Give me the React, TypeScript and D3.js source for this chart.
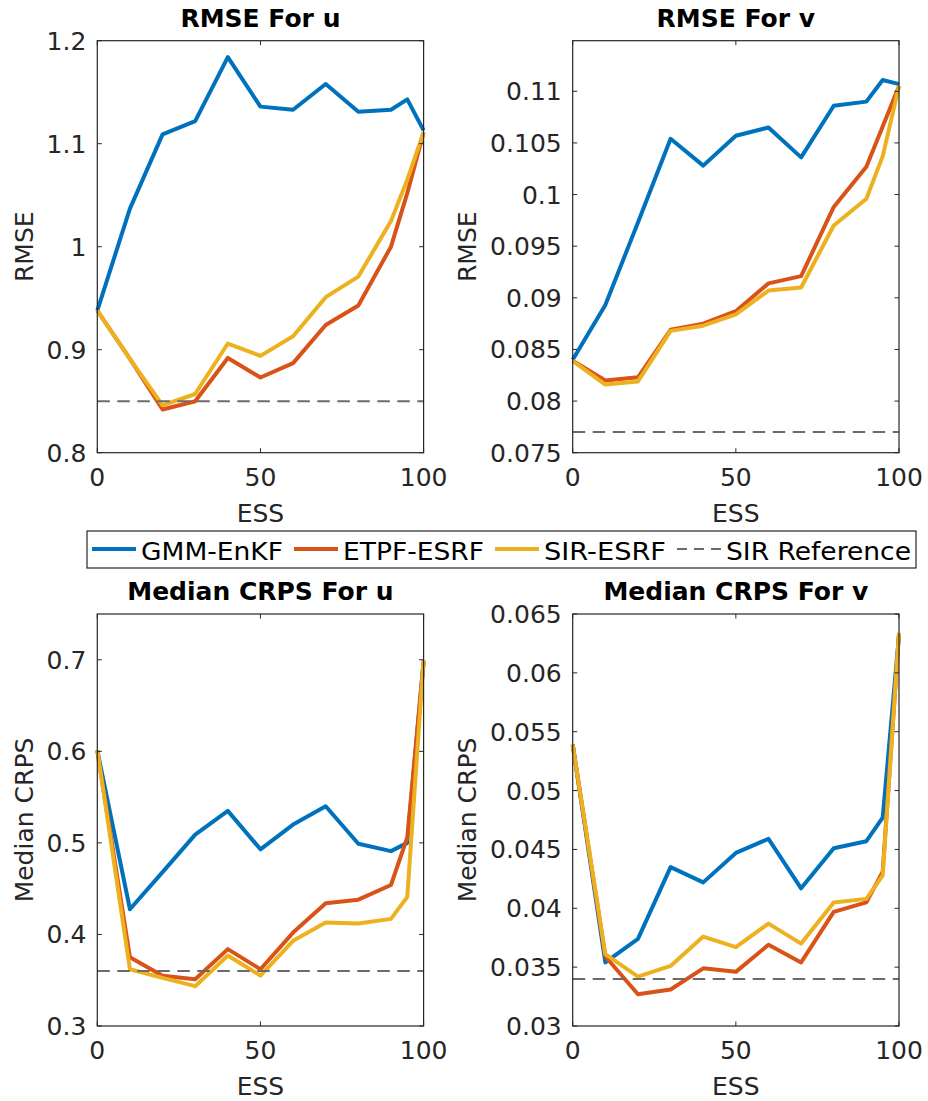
import React, { useEffect, useRef } from "react";
import * as d3 from "d3";

// ESS values on the x axis (note the extra point at 95)
const ess = [0, 10, 20, 30, 40, 50, 60, 70, 80, 90, 95, 100];
const xTicks = [0, 50, 100];

const seriesNames = ["GMM-EnKF", "ETPF-ESRF", "SIR-ESRF"];
const refName = "SIR Reference";

// RMSE for u
const rmseUGmm = [0.938, 1.037, 1.109, 1.122, 1.184, 1.136, 1.133, 1.158, 1.131, 1.133, 1.143, 1.113];
const rmseUEtpf = [0.938, 0.891, 0.842, 0.85, 0.892, 0.873, 0.887, 0.924, 0.943, 1.0, 1.052, 1.111];
const rmseUSir = [0.938, 0.891, 0.846, 0.857, 0.906, 0.894, 0.913, 0.951, 0.971, 1.025, 1.065, 1.111];
const rmseURef = 0.85;
const rmseUTicks = [0.8, 0.9, 1, 1.1, 1.2];

// RMSE for v
const rmseVGmm = [0.084, 0.0893, 0.0973, 0.1054, 0.1028, 0.1057, 0.1065, 0.1036, 0.1086, 0.109, 0.1111, 0.1107];
const rmseVEtpf = [0.0839, 0.082, 0.0823, 0.0869, 0.0875, 0.0887, 0.0914, 0.0921, 0.0988, 0.1027, 0.1066, 0.1105];
const rmseVSir = [0.0839, 0.0816, 0.0819, 0.0868, 0.0873, 0.0884, 0.0907, 0.091, 0.097, 0.0996, 0.1037, 0.1105];
const rmseVRef = 0.077;
const rmseVTicks = [0.075, 0.08, 0.085, 0.09, 0.095, 0.1, 0.105, 0.11];

// median CRPS for u
const crpsUGmm = [0.601, 0.4275, 0.468, 0.509, 0.535, 0.493, 0.52, 0.54, 0.499, 0.491, 0.5, 0.698];
const crpsUEtpf = [0.601, 0.375, 0.355, 0.351, 0.384, 0.362, 0.402, 0.434, 0.438, 0.454, 0.506, 0.698];
const crpsUSir = [0.601, 0.362, 0.3525, 0.3435, 0.377, 0.355, 0.393, 0.413, 0.412, 0.417, 0.441, 0.7];
const crpsURef = 0.36;
const crpsUTicks = [0.3, 0.4, 0.5, 0.6, 0.7];

// median CRPS for v
const crpsVGmm = [0.0539, 0.0354, 0.0374, 0.0435, 0.0422, 0.0447, 0.0459, 0.0417, 0.0451, 0.0457, 0.0477, 0.0632];
const crpsVEtpf = [0.0539, 0.0359, 0.0327, 0.0331, 0.0349, 0.0346, 0.0369, 0.0354, 0.0397, 0.0405, 0.0431, 0.0633];
const crpsVSir = [0.0539, 0.0361, 0.0342, 0.0351, 0.0376, 0.0367, 0.0387, 0.037, 0.0405, 0.0408, 0.0428, 0.0634];
const crpsVRef = 0.034;
const crpsVTicks = [0.03, 0.035, 0.04, 0.045, 0.05, 0.055, 0.06, 0.065];

const colors = ["#0072BD", "#D95319", "#EDB120"];
const axisColor = "#262626";
const refColor = "#6b6b6b";
const font = "DejaVu Sans, Verdana, sans-serif";

type Panel = {
  title: string;
  ylabel: string;
  col: number;
  row: number;
  domain: [number, number];
  ticks: number[];
  series: number[][];
  ref: number;
};

const panels: Panel[] = [
  { title: "RMSE For u", ylabel: "RMSE", col: 0, row: 0, domain: [0.8, 1.2], ticks: rmseUTicks, series: [rmseUGmm, rmseUEtpf, rmseUSir], ref: rmseURef },
  { title: "RMSE For v", ylabel: "RMSE", col: 1, row: 0, domain: [0.075, 0.1149], ticks: rmseVTicks, series: [rmseVGmm, rmseVEtpf, rmseVSir], ref: rmseVRef },
  { title: "Median CRPS For u", ylabel: "Median CRPS", col: 0, row: 1, domain: [0.3, 0.75], ticks: crpsUTicks, series: [crpsUGmm, crpsUEtpf, crpsUSir], ref: crpsURef },
  { title: "Median CRPS For v", ylabel: "Median CRPS", col: 1, row: 1, domain: [0.03, 0.065], ticks: crpsVTicks, series: [crpsVGmm, crpsVEtpf, crpsVSir], ref: crpsVRef },
];

const W = 928;
const H = 1101;
const colX = [97.3, 572.7];
const rowY = [40.7, 614];
const PW = 326.3;
const PH = 412;

const fmt = (v: number) => String(+v.toFixed(4));

type G = d3.Selection<SVGGElement, unknown, null, undefined>;

const drawPanel = (g: G, p: Panel) => {
  const x = d3.scaleLinear().domain([0, 100]).range([0, PW]);
  const y = d3.scaleLinear().domain(p.domain).range([PH, 0]);

  const line = d3
    .line<number>()
    .x((_, i) => x(ess[i]))
    .y((d) => y(d));

  p.series.forEach((s, i) => {
    g.append("path")
      .attr("d", line(s))
      .attr("fill", "none")
      .attr("stroke", colors[i])
      .attr("stroke-width", 4)
      .attr("stroke-linejoin", "round");
  });

  g.append("line")
    .attr("x1", 0)
    .attr("x2", PW)
    .attr("y1", y(p.ref))
    .attr("y2", y(p.ref))
    .attr("stroke", refColor)
    .attr("stroke-width", 2)
    .attr("stroke-dasharray", "12.5,7.5");

  // box
  g.append("rect")
    .attr("width", PW)
    .attr("height", PH)
    .attr("fill", "none")
    .attr("stroke", axisColor)
    .attr("stroke-width", 1.2);

  // inward ticks on all four sides
  const tl = 4.5;
  p.ticks.forEach((t) => {
    const ty = y(t);
    g.append("line").attr("x1", 0).attr("x2", tl).attr("y1", ty).attr("y2", ty).attr("stroke", axisColor);
    g.append("line").attr("x1", PW).attr("x2", PW - tl).attr("y1", ty).attr("y2", ty).attr("stroke", axisColor);
  });
  xTicks.forEach((t) => {
    const tx = x(t);
    g.append("line").attr("x1", tx).attr("x2", tx).attr("y1", PH).attr("y2", PH - tl).attr("stroke", axisColor);
    g.append("line").attr("x1", tx).attr("x2", tx).attr("y1", 0).attr("y2", tl).attr("stroke", axisColor);
  });

  const yLabels = g
    .selectAll("text.ytick")
    .data(p.ticks)
    .join("text")
    .attr("class", "ytick")
    .attr("x", -11)
    .attr("y", (d) => y(d))
    .attr("dy", "0.36em")
    .attr("text-anchor", "end")
    .attr("font-size", 25)
    .attr("fill", axisColor)
    .text((d) => fmt(d));

  g.selectAll("text.xtick")
    .data(xTicks)
    .join("text")
    .attr("class", "xtick")
    .attr("x", (d) => x(d))
    .attr("y", PH + 33)
    .attr("text-anchor", "middle")
    .attr("font-size", 25)
    .attr("fill", axisColor)
    .text((d) => fmt(d));

  let maxW = 0;
  yLabels.each(function () {
    maxW = Math.max(maxW, (this as SVGTextElement).getComputedTextLength());
  });

  g.append("text")
    .attr("transform", `translate(${-(11 + maxW + 14)},${PH / 2}) rotate(-90)`)
    .attr("text-anchor", "middle")
    .attr("font-size", 25)
    .attr("fill", axisColor)
    .text(p.ylabel);

  g.append("text")
    .attr("x", PW / 2)
    .attr("y", PH + 69)
    .attr("text-anchor", "middle")
    .attr("font-size", 25)
    .attr("fill", axisColor)
    .text("ESS");

  g.append("text")
    .attr("x", PW / 2)
    .attr("y", -14)
    .attr("text-anchor", "middle")
    .attr("font-size", 25)
    .attr("font-weight", "bold")
    .attr("fill", "#000")
    .text(p.title);
};

const drawLegend = (svg: d3.Selection<SVGSVGElement, unknown, null, undefined>) => {
  const g = svg.append("g");
  g.append("rect")
    .attr("x", 87)
    .attr("y", 531)
    .attr("width", 829)
    .attr("height", 37)
    .attr("fill", "#fff")
    .attr("stroke", axisColor)
    .attr("stroke-width", 1.2);

  const labels = [...seriesNames, refName];
  const widths = [142, 141, 122, 185];
  const ly = 549;
  let cx = 92;
  labels.forEach((name, i) => {
    const isRef = i === labels.length - 1;
    g.append("line")
      .attr("x1", cx)
      .attr("x2", cx + 44)
      .attr("y1", ly)
      .attr("y2", ly)
      .attr("stroke", isRef ? refColor : colors[i])
      .attr("stroke-width", isRef ? 2 : 4)
      .attr("stroke-dasharray", isRef ? "10,7" : null);
    g.append("text")
      .attr("x", cx + 49)
      .attr("y", ly + 10.5)
      .attr("font-size", 25)
      .attr("fill", "#000")
      .attr("textLength", widths[i])
      .attr("lengthAdjust", "spacingAndGlyphs")
      .text(name);
    cx += 49 + widths[i] + 11;
  });
};

const App = () => {
  const ref = useRef<SVGSVGElement>(null);

  useEffect(() => {
    if (!ref.current) return;
    const svg = d3.select(ref.current);
    svg.selectAll("*").remove();
    panels.forEach((p) => {
      const g = svg
        .append("g")
        .attr("transform", `translate(${colX[p.col]},${rowY[p.row]})`);
      drawPanel(g, p);
    });
    drawLegend(svg);
  }, []);

  return (
    <svg
      ref={ref}
      width={W}
      height={H}
      style={{ position: "absolute", left: 0, top: 0, background: "#fff", fontFamily: font }}
    />
  );
};

export default App;
